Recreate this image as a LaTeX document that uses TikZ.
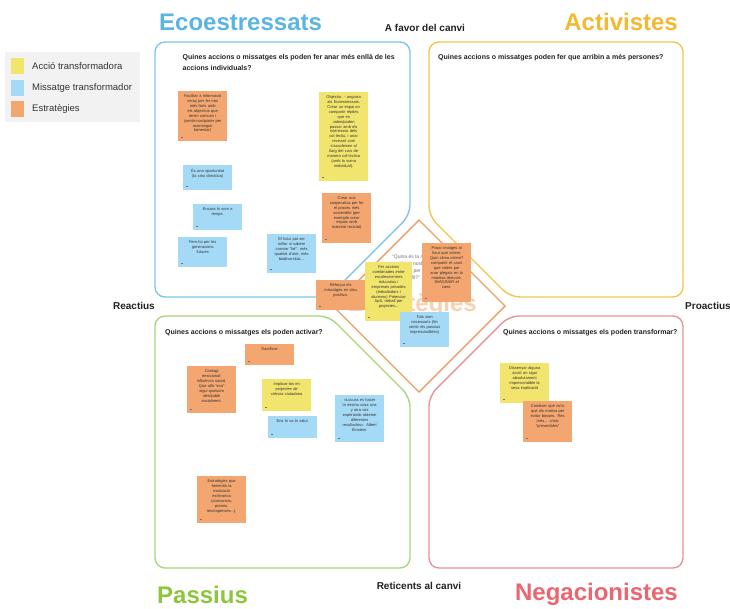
\documentclass[tikz,border=0pt]{standalone}
\usepackage{fontspec}
\setmainfont{Liberation Sans}
\definecolor{lnBlue}{HTML}{80C6EA}
\definecolor{lnYellow}{HTML}{F2C54B}
\definecolor{lnGreen}{HTML}{A8D67C}
\definecolor{lnPink}{HTML}{E8929C}
\definecolor{lnDiam}{HTML}{EE9C68}
\definecolor{ttBlue}{HTML}{5BB5E3}
\definecolor{ttYellow}{HTML}{F4B932}
\definecolor{ttGreen}{HTML}{8CC63F}
\definecolor{ttRed}{HTML}{EA6670}
\definecolor{nY}{HTML}{F2E56E}
\definecolor{nO}{HTML}{F3A66F}
\definecolor{nB}{HTML}{A5DAF7}
\definecolor{legbg}{HTML}{F2F2F2}
\definecolor{peach}{HTML}{F7D2B2}
\definecolor{txtDark}{HTML}{333333}
\definecolor{axisDark}{HTML}{222222}
\newcommand\stickynote[7]{%
  \node[notebox, fill=#6, minimum width=#4, minimum height=#5, anchor=north west] (#1) at (#2,#3) {};
  \node[notetext, text width=#4-6, anchor=north] (#1t) at ([yshift=-3.5pt]#1.north) {#7};
  \draw[notemark] ([xshift=3pt,yshift=4pt]#1.south west) -- ++(2.2,0);
}
\begin{document}
\begin{tikzpicture}[x=1pt,y=-1pt,
  quad/.style={line width=1.4pt, rounded corners=10pt},
  title/.style={font=\bfseries\fontsize{24}{24}\selectfont, inner sep=0pt},
  axislbl/.style={font=\bfseries\fontsize{10}{10}\selectfont, text=axisDark, inner sep=0pt},
  question/.style={font=\bfseries\fontsize{7}{10.5}\selectfont, text=axisDark, inner sep=0pt, align=left},
  notebox/.style={inner sep=0pt, draw=none},
  notetext/.style={inner sep=0pt, align=center, font=\fontsize{4}{4.9}\selectfont, text=txtDark},
  notemark/.style={line width=0.5pt, draw=txtDark!70},
  swatch/.style={inner sep=0pt, minimum width=13, minimum height=16.5},
  legtext/.style={inner sep=0pt, font=\fontsize{9.5}{10}\selectfont, text=txtDark, anchor=west}
]
\useasboundingbox (0,0) rectangle (730,608);
\fill[white] (0,0) rectangle (730,608);

% titles
\node[title, text=ttBlue, anchor=base west] (tEco) at (159,30) {Ecoestressats};
\node[title, text=ttYellow, anchor=base east] (tAct) at (678,30) {Activistes};
\node[title, text=ttGreen, anchor=base west] (tPas) at (157,603) {Passius};
\node[title, text=ttRed, anchor=base east] (tNeg) at (678,600) {Negacionistes};

% axis labels
\node[axislbl, anchor=base] (afavor) at (425,31) {A favor del canvi};
\node[axislbl, anchor=base] (retic) at (419,589) {Reticents al canvi};
\node[axislbl, anchor=base east] (reac) at (155,309) {Reactius};
\node[axislbl, anchor=base west] (proac) at (685,309) {Proactius};

% legend
\node[inner sep=0pt, fill=legbg, minimum width=135, minimum height=70, anchor=north west] (legend) at (5,52) {};
\node[swatch, fill=nY] (swY) at (17,66) {};
\node[swatch, fill=nB] (swB) at (17,88) {};
\node[swatch, fill=nO] (swO) at (17,109) {};
\node[legtext] (lgY) at (32,66) {Acció transformadora};
\node[legtext] (lgB) at (32,88) {Missatge transformador};
\node[legtext] (lgO) at (32,109) {Estratègies};

% quadrants
\draw[quad, lnBlue] (155,42) -- (410,42) -- (410,215) -- (328,297) -- (155,297) -- cycle;
\draw[quad, lnYellow] (429,42) -- (683,42) -- (683,297) -- (510,297) -- (429,216) -- cycle;
\draw[quad, lnGreen] (155,316) -- (329,316) -- (410,397) -- (410,568) -- (155,568) -- cycle;
\draw[quad, lnPink] (509,316) -- (683,316) -- (683,568) -- (429,568) -- (429,396) -- cycle;

% diamond
\draw[line width=1.4pt, lnDiam, line join=miter] (419,220) -- (505,306) -- (419,392) -- (333,306) -- cycle;
\node[font=\bfseries\fontsize{24}{24}\selectfont, text=peach, inner sep=0pt, anchor=base east] (estrat) at (477,311) {Estratègies};
\node[inner sep=0pt, anchor=north west, align=left, font=\fontsize{5}{7}\selectfont, text=black!55] (quote) at (392,254.5)
  {“Quina és la nostra\\ acció i el nostre\\ missatge per a\\ cada perfil?”};

% questions
\node[question, anchor=north west] (qTL) at (182.5,54.5) {Quines accions o missatges els poden fer anar més enllà de les\\accions individuals?};
\node[question, anchor=north west] (qTR) at (438,54.5) {Quines accions o missatges poden fer que arribin a més persones?};
\node[question, anchor=base west] (qBL) at (165,334) {Quines accions o missatges els poden activar?};
\node[question, anchor=base west] (qBR) at (503,334) {Quines accions o missatges els poden transformar?};

% sticky notes: top-left
\stickynote{n1}{178}{91}{49}{50}{nO}{Facilitar a informació\\ veraç per fer-nos\\ més forts amb\\ els objectius que\\ tenim comuns i\\ (sentir-nos/poder per\\ aconseguir\\ benestar)}
\stickynote{n2}{319}{92}{49}{89}{nY}{Objectiu: - angoixa\\ als Ecoestressats.\\ Crear un espai on\\ compartir rèplies\\ que es\\ volen/poden\\ passar amb els\\ interessos dels\\ col·lectiu, i anar\\ revisant com\\ s'assoleixen al\\ llarg del curs de\\ manera col·lectiva\\ (amb la suma\\ individual).}
\stickynote{n3}{183}{165}{49}{25}{nB}{És una oportunitat\\ (la crisi climàtica)}
\stickynote{n4}{193}{204}{49}{26}{nB}{Encara hi som a\\ temps.}
\stickynote{n5}{178}{237}{49}{30}{nB}{Fem-ho per les\\ generacions\\ futures}
\stickynote{n6}{322}{193}{49}{50}{nO}{Crear una\\ cooperativa per fer\\ el procés més\\ sostenible (per\\ exemple crear\\ espais amb\\ material reciclat)}
\stickynote{n7}{267}{234}{49}{39}{nB}{El futur pot ser\\ millor si sabem\\ canviar "bé": més\\ qualitat d'aire, més\\ biodiversitat,...}

% center
\stickynote{n8}{316}{280}{49}{30}{nO}{Reforçar els\\ missatges en clau\\ positiva.}
\stickynote{n9}{365}{262}{47}{59}{nY}{Fer accions\\ combinades entre\\ escoles/centres\\ educatius i\\ empreses privades\\ (treballadors i\\ alumnes) Potenciar\\ ApS, treball per\\ projectes...}
\stickynote{n10}{422}{243}{49}{59}{nO}{Posar imatges al\\ futur que volem.\\ Quin clima volem?\\ compartir el camí\\ que volem per\\ anar plegats en la\\ mateixa direcció.\\ IMAGINAR el\\ camí.}
\stickynote{n11}{400}{312}{49}{35}{nB}{Tots som\\ necessaris (fer\\ sentir els passius\\ imprescindibles)}

% bottom-left
\stickynote{n13}{245}{344}{49}{21}{nO}{Sacrificar}
\stickynote{n14}{187}{366}{49}{47}{nO}{Contagi\\ emocional:\\ influència social.\\ Que allò "eco"\\ sigui quelcom\\ desitjable\\ socialment.}
\stickynote{n15}{262}{379}{49}{32}{nY}{Implicar-los en\\ projectes de\\ ciència ciutadana}
\stickynote{n16}{268}{416}{49}{22}{nB}{Ens hi va la salut.}
\stickynote{n17}{335}{395}{49}{47}{nB}{«Locura es hacer\\ la misma cosa una\\ y otra vez\\ esperando obtener\\ diferentes\\ resultados». Albert\\ Einstein.}
\stickynote{n18}{197}{476}{49}{47}{nO}{Estratègies que\\ fomentin la\\ motivació\\ extrínseca\\ (concursos,\\ premis,\\ recompenses...).}

% bottom-right
\stickynote{n19}{500}{363}{49}{40}{nY}{Dissenyar alguna\\ acció on sigui\\ absolutament\\ imprescindible la\\ seva implicació}
\stickynote{n20}{523}{401}{49}{41}{nO}{Conèixer què no'ls\\ què els motiva per\\ evitar bosses. Res\\ més... crisis\\ “prevenibles”}
\end{tikzpicture}
\end{document}
